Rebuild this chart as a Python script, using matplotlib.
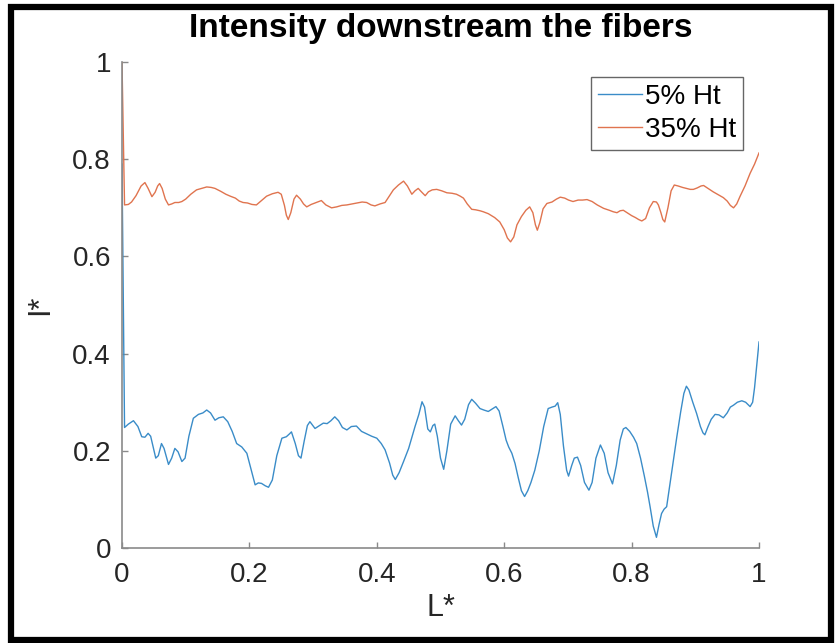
import matplotlib
matplotlib.use("Agg")
import matplotlib.pyplot as plt
from matplotlib.patches import Rectangle

plt.rcParams['font.family'] = ['Liberation Sans', 'DejaVu Sans']

# Data
x_5 = [0, 0.004, 0.010, 0.018, 0.025, 0.031, 0.036, 0.041, 0.045, 0.053, 0.057, 0.062, 0.066,
       0.073, 0.078, 0.083, 0.088, 0.094, 0.099, 0.105, 0.112, 0.120, 0.127, 0.133, 0.139, 0.146,
       0.152, 0.159, 0.166, 0.173, 0.180, 0.188, 0.196, 0.202, 0.209, 0.214, 0.219, 0.225, 0.230,
       0.236, 0.243, 0.251, 0.258, 0.263, 0.266, 0.272, 0.277, 0.281, 0.286, 0.291, 0.295, 0.303,
       0.310, 0.316, 0.322, 0.328, 0.334, 0.340, 0.346, 0.353, 0.360, 0.368, 0.376, 0.384, 0.392,
       0.400, 0.407, 0.413, 0.420, 0.425, 0.429, 0.435, 0.442, 0.450, 0.460, 0.466, 0.471, 0.475,
       0.480, 0.484, 0.488, 0.491, 0.495, 0.500, 0.505, 0.510, 0.516, 0.523, 0.528, 0.533, 0.538,
       0.544, 0.549, 0.555, 0.562, 0.568, 0.575, 0.581, 0.587, 0.592, 0.598, 0.603, 0.607, 0.612,
       0.617, 0.622, 0.627, 0.632, 0.637, 0.642, 0.648, 0.655, 0.662, 0.669, 0.675, 0.680, 0.684,
       0.688, 0.693, 0.698, 0.701, 0.706, 0.710, 0.715, 0.720, 0.726, 0.733, 0.738, 0.744, 0.751,
       0.757, 0.763, 0.770, 0.776, 0.782, 0.787, 0.791, 0.797, 0.803, 0.808, 0.814, 0.820, 0.825,
       0.829, 0.834, 0.839, 0.843, 0.847, 0.851, 0.855, 0.860, 0.866, 0.871, 0.877, 0.882, 0.886,
       0.890, 0.896, 0.902, 0.908, 0.912, 0.915, 0.920, 0.925, 0.931, 0.937, 0.944, 0.950, 0.955,
       0.960, 0.966, 0.973, 0.979, 0.986, 0.990, 0.993, 1.0]
y_5 = [0.79, 0.248, 0.255, 0.262, 0.250, 0.229, 0.228, 0.236, 0.230, 0.185, 0.190, 0.215, 0.205,
       0.172, 0.185, 0.205, 0.198, 0.178, 0.185, 0.230, 0.267, 0.275, 0.278, 0.284, 0.278, 0.263,
       0.268, 0.270, 0.260, 0.240, 0.215, 0.208, 0.195, 0.165, 0.130, 0.134, 0.133, 0.128, 0.125,
       0.140, 0.190, 0.226, 0.229, 0.235, 0.239, 0.215, 0.190, 0.185, 0.220, 0.252, 0.260, 0.246,
       0.252, 0.257, 0.256, 0.262, 0.270, 0.262, 0.248, 0.243, 0.250, 0.251, 0.240, 0.235, 0.230,
       0.226, 0.215, 0.202, 0.175, 0.150, 0.141, 0.155, 0.178, 0.205, 0.250, 0.275, 0.301, 0.290,
       0.245, 0.239, 0.252, 0.255, 0.230, 0.185, 0.162, 0.200, 0.255, 0.272, 0.262, 0.253, 0.265,
       0.295, 0.306, 0.298, 0.287, 0.284, 0.281, 0.286, 0.291, 0.282, 0.250, 0.222, 0.208, 0.195,
       0.174, 0.145, 0.118, 0.106, 0.118, 0.135, 0.160, 0.200, 0.250, 0.287, 0.290, 0.292, 0.299,
       0.275, 0.210, 0.160, 0.148, 0.170, 0.185, 0.187, 0.170, 0.135, 0.119, 0.135, 0.185, 0.212,
       0.195, 0.155, 0.132, 0.170, 0.222, 0.245, 0.248, 0.240, 0.228, 0.215, 0.185, 0.148, 0.115,
       0.085, 0.045, 0.022, 0.048, 0.071, 0.080, 0.085, 0.130, 0.185, 0.229, 0.280, 0.318, 0.333,
       0.325, 0.300, 0.277, 0.250, 0.237, 0.233, 0.250, 0.265, 0.275, 0.274, 0.268, 0.278, 0.290,
       0.294, 0.300, 0.303, 0.300, 0.291, 0.300, 0.330, 0.424]

x_35 = [0, 0.004, 0.010, 0.015, 0.022, 0.030, 0.036, 0.041, 0.047, 0.052, 0.056, 0.059, 0.063,
        0.068, 0.073, 0.078, 0.083, 0.089, 0.094, 0.100, 0.108, 0.117, 0.125, 0.133, 0.140, 0.146,
        0.155, 0.163, 0.170, 0.178, 0.184, 0.190, 0.197, 0.204, 0.211, 0.218, 0.227, 0.236, 0.245,
        0.250, 0.255, 0.258, 0.261, 0.265, 0.270, 0.274, 0.280, 0.285, 0.290, 0.297, 0.305, 0.313,
        0.320, 0.329, 0.337, 0.345, 0.353, 0.361, 0.369, 0.377, 0.384, 0.391, 0.397, 0.405, 0.413,
        0.420, 0.426, 0.434, 0.442, 0.448, 0.455, 0.460, 0.465, 0.470, 0.476, 0.481, 0.487, 0.494,
        0.502, 0.510, 0.518, 0.525, 0.531, 0.536, 0.542, 0.549, 0.555, 0.562, 0.567, 0.575, 0.585,
        0.593, 0.600, 0.605, 0.610, 0.615, 0.620, 0.627, 0.634, 0.640, 0.645, 0.649, 0.652, 0.656,
        0.661, 0.667, 0.675, 0.682, 0.688, 0.695, 0.701, 0.708, 0.716, 0.723, 0.730, 0.738, 0.746,
        0.756, 0.765, 0.771, 0.777, 0.782, 0.787, 0.794, 0.800, 0.806, 0.811, 0.816, 0.822, 0.828,
        0.834, 0.839, 0.842, 0.846, 0.849, 0.852, 0.857, 0.862, 0.867, 0.873, 0.880, 0.886, 0.892,
        0.897, 0.903, 0.909, 0.913, 0.920, 0.928, 0.936, 0.944, 0.950, 0.955, 0.960, 0.965, 0.970,
        0.978, 0.986, 0.993, 1.0]
y_35 = [1.0, 0.706, 0.707, 0.712, 0.725, 0.745, 0.752, 0.740, 0.723, 0.732, 0.745, 0.750, 0.740,
        0.718, 0.706, 0.708, 0.711, 0.711, 0.713, 0.718, 0.728, 0.737, 0.740, 0.743, 0.742, 0.740,
        0.734, 0.728, 0.724, 0.720, 0.714, 0.711, 0.710, 0.707, 0.706, 0.714, 0.724, 0.729, 0.732,
        0.728, 0.705, 0.685, 0.676, 0.690, 0.718, 0.726, 0.718, 0.708, 0.702, 0.707, 0.711, 0.715,
        0.706, 0.700, 0.702, 0.705, 0.706, 0.708, 0.710, 0.712, 0.711, 0.706, 0.704, 0.708, 0.711,
        0.725, 0.737, 0.747, 0.755, 0.745, 0.728, 0.735, 0.740, 0.733, 0.725, 0.733, 0.737, 0.738,
        0.735, 0.731, 0.730, 0.728, 0.724, 0.720, 0.708, 0.697, 0.696, 0.694, 0.692, 0.688, 0.680,
        0.671, 0.655, 0.638, 0.630, 0.640, 0.665, 0.682, 0.695, 0.702, 0.690, 0.665, 0.654, 0.670,
        0.698, 0.709, 0.712, 0.718, 0.722, 0.720, 0.716, 0.713, 0.716, 0.716, 0.717, 0.713, 0.706,
        0.699, 0.695, 0.692, 0.690, 0.694, 0.695, 0.689, 0.684, 0.680, 0.676, 0.673, 0.678, 0.700,
        0.713, 0.712, 0.706, 0.690, 0.676, 0.671, 0.700, 0.735, 0.747, 0.745, 0.742, 0.740, 0.738,
        0.738, 0.741, 0.745, 0.746, 0.740, 0.733, 0.727, 0.721, 0.714, 0.705, 0.700, 0.708, 0.723,
        0.745, 0.771, 0.790, 0.813]

labels = ["5% Ht", "35% Ht"]
ticks = [0, 0.2, 0.4, 0.6, 0.8, 1]
tick_labels = ["0", "0.2", "0.4", "0.6", "0.8", "1"]

fig = plt.figure(figsize=(8.35, 6.43), dpi=100)
ax = fig.add_axes([0.1461, 0.1477, 0.7629, 0.7558])

ax.plot(x_5, y_5, color='#3a8cc8', lw=1.0, label=labels[0])
ax.plot(x_35, y_35, color='#e0744f', lw=1.0, label=labels[1])

ax.set_xlim(0, 1)
ax.set_ylim(0, 1)
ax.set_xticks(ticks)
ax.set_xticklabels(tick_labels)
ax.set_yticks(ticks)
ax.set_yticklabels(tick_labels)

# MATLAB-ish look: box off, inward ticks
for side in ['top', 'right']:
    ax.spines[side].set_visible(False)
for side in ['left', 'bottom']:
    ax.spines[side].set_color('#8a8a8a')
    ax.spines[side].set_linewidth(1.2)
ax.tick_params(direction='in', length=4.5, width=1.0, color='#8a8a8a',
               labelsize=20, labelcolor='#262626')
ax.tick_params(axis='x', pad=10)
ax.tick_params(axis='y', pad=8)

ax.set_title("Intensity downstream the fibers", fontsize=24, fontweight='bold', pad=18)
ax.set_xlabel("L*", fontsize=22, color='#262626', labelpad=4)
ax.set_ylabel("I*", fontsize=22, color='#262626', labelpad=12)

leg = ax.legend(loc='upper right', bbox_to_anchor=(0.975, 0.969), borderaxespad=0,
                fontsize=20, fancybox=False, framealpha=1, edgecolor='#666666',
                handlelength=1.6, handletextpad=0.1, borderpad=0.25, labelspacing=0.25)
leg.get_frame().set_linewidth(1.0)

# black frame around the whole picture
fig.add_artist(Rectangle((0.0132, 0.0047), 0.982, 0.9844, transform=fig.transFigure,
                         fill=False, edgecolor='black', lw=4.5))

plt.savefig("out.png", dpi=100)
